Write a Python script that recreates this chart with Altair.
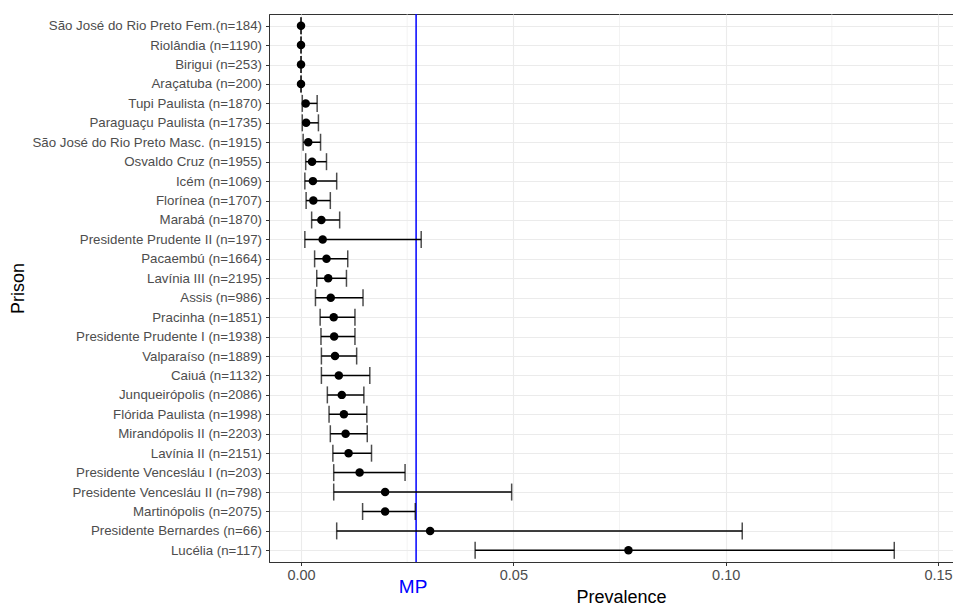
import altair as alt
import pandas as pd

prisons = [
    "São José do Rio Preto Fem.(n=184)",
    "Riolândia (n=1190)",
    "Birigui (n=253)",
    "Araçatuba (n=200)",
    "Tupi Paulista (n=1870)",
    "Paraguaçu Paulista (n=1735)",
    "São José do Rio Preto Masc. (n=1915)",
    "Osvaldo Cruz (n=1955)",
    "Icém (n=1069)",
    "Florínea (n=1707)",
    "Marabá (n=1870)",
    "Presidente Prudente II (n=197)",
    "Pacaembú (n=1664)",
    "Lavínia III (n=2195)",
    "Assis (n=986)",
    "Pracinha (n=1851)",
    "Presidente Prudente I (n=1938)",
    "Valparaíso (n=1889)",
    "Caiuá (n=1132)",
    "Junqueirópolis (n=2086)",
    "Flórida Paulista (n=1998)",
    "Mirandópolis II (n=2203)",
    "Lavínia II (n=2151)",
    "Presidente Vencesláu I (n=203)",
    "Presidente Vencesláu II (n=798)",
    "Martinópolis (n=2075)",
    "Presidente Bernardes (n=66)",
    "Lucélia (n=117)",
]
prevalence = [0, 0, 0, 0, 0.0011, 0.0012, 0.0017, 0.0026, 0.0028, 0.0029,
              0.0048, 0.0051, 0.0060, 0.0064, 0.0070, 0.0077, 0.0078, 0.0080,
              0.0089, 0.0096, 0.0101, 0.0105, 0.0112, 0.0138, 0.0198, 0.0198,
              0.0304, 0.0771]
lower = [0, 0, 0, 0, 0.0003, 0.0003, 0.0005, 0.0011, 0.0009, 0.0012,
         0.0025, 0.0009, 0.0032, 0.0037, 0.0034, 0.0045, 0.0047, 0.0048,
         0.0048, 0.0062, 0.0066, 0.0069, 0.0075, 0.0077, 0.0077, 0.0145,
         0.0084, 0.0410]
upper = [0, 0, 0, 0, 0.0038, 0.0041, 0.0046, 0.0060, 0.0084, 0.0069,
         0.0091, 0.0283, 0.0110, 0.0107, 0.0146, 0.0127, 0.0127, 0.0131,
         0.0162, 0.0148, 0.0155, 0.0156, 0.0166, 0.0245, 0.0496, 0.0269,
         0.1039, 0.1397]
mp_value = [0.0271]
mp_label = ["MP"]
x_ticks = [0.0, 0.05, 0.10, 0.15]
x_minor = [0.025, 0.075, 0.125]

df = pd.DataFrame({"Prison": prisons, "Prevalence": prevalence,
                   "lower": lower, "upper": upper})
mp_df = pd.DataFrame({"MP": mp_value, "label": mp_label})
minor_df = pd.DataFrame({"m": x_minor})

FONT = "Liberation Sans"
W, H = 684, 548

xscale = alt.Scale(domain=[-0.00754, 0.15353], nice=False, zero=False)
xaxis = alt.Axis(values=x_ticks, format=".2f", title="Prevalence",
                 titleX=352, titleY=35, titleBaseline="middle",
                 titleFontSize=18, titleFontWeight="normal", titleColor="black",
                 labelFontSize=14.5, labelPadding=3, tickSize=3.5)
yscale = alt.Scale(type="point", padding=0.6)
yaxis = alt.Axis(title="Prison", titleX=-251, titleY=274, titleBaseline="middle",
                 titleFontSize=18, titleFontWeight="normal", titleColor="black",
                 labelFontSize=13.3, labelPadding=4, tickSize=3.5, labelLimit=400,
                 grid=True)

ysort = prisons

minor = alt.Chart(minor_df).mark_rule(color="#EBEBEB", strokeWidth=0.6).encode(
    x=alt.X("m:Q", scale=xscale, axis=xaxis)
)

mp_line = alt.Chart(mp_df).mark_rule(color="#0000FF", strokeWidth=1.5).encode(
    x=alt.X("MP:Q", scale=xscale, axis=xaxis)
)

bars = alt.Chart(df).mark_rule(color="black", strokeWidth=1.5).encode(
    x=alt.X("lower:Q", scale=xscale, axis=xaxis),
    x2="upper:Q",
    y=alt.Y("Prison:N", sort=ysort, scale=yscale, axis=yaxis),
)

cap_lo = alt.Chart(df).mark_tick(color="black", size=17, thickness=1.5).encode(
    x=alt.X("lower:Q", scale=xscale, axis=xaxis),
    y=alt.Y("Prison:N", sort=ysort, scale=yscale, axis=yaxis),
)
cap_hi = alt.Chart(df).mark_tick(color="black", size=17, thickness=1.5).encode(
    x=alt.X("upper:Q", scale=xscale, axis=xaxis),
    y=alt.Y("Prison:N", sort=ysort, scale=yscale, axis=yaxis),
)

points = alt.Chart(df).mark_point(filled=True, color="black", opacity=1, size=72).encode(
    x=alt.X("Prevalence:Q", scale=xscale, axis=xaxis),
    y=alt.Y("Prison:N", sort=ysort, scale=yscale, axis=yaxis),
)

mp_text = alt.Chart(mp_df).mark_text(color="#0000FF", fontSize=19, font=FONT,
                                     baseline="middle", align="center", dx=-3).encode(
    x=alt.X("MP:Q", scale=xscale, axis=xaxis),
    y=alt.value(H + 25),
    text="label:N",
)

chart = alt.layer(minor, mp_line, bars, cap_lo, cap_hi, points, mp_text).properties(
    width=W, height=H,
    autosize=alt.AutoSizeParams(type="none"),
    padding={"left": 261, "top": 6, "right": 0, "bottom": 44},
    background="white",
).configure_view(
    stroke="#333333", strokeWidth=1
).configure_axis(
    labelFont=FONT, titleFont=FONT,
    labelColor="#4D4D4D", tickColor="#333333", domainColor="#333333",
    domainWidth=1, tickWidth=1,
    gridColor="#EBEBEB", gridWidth=1.1,
)

chart.save("out.html", embed_options={"renderer": "svg", "actions": False})
